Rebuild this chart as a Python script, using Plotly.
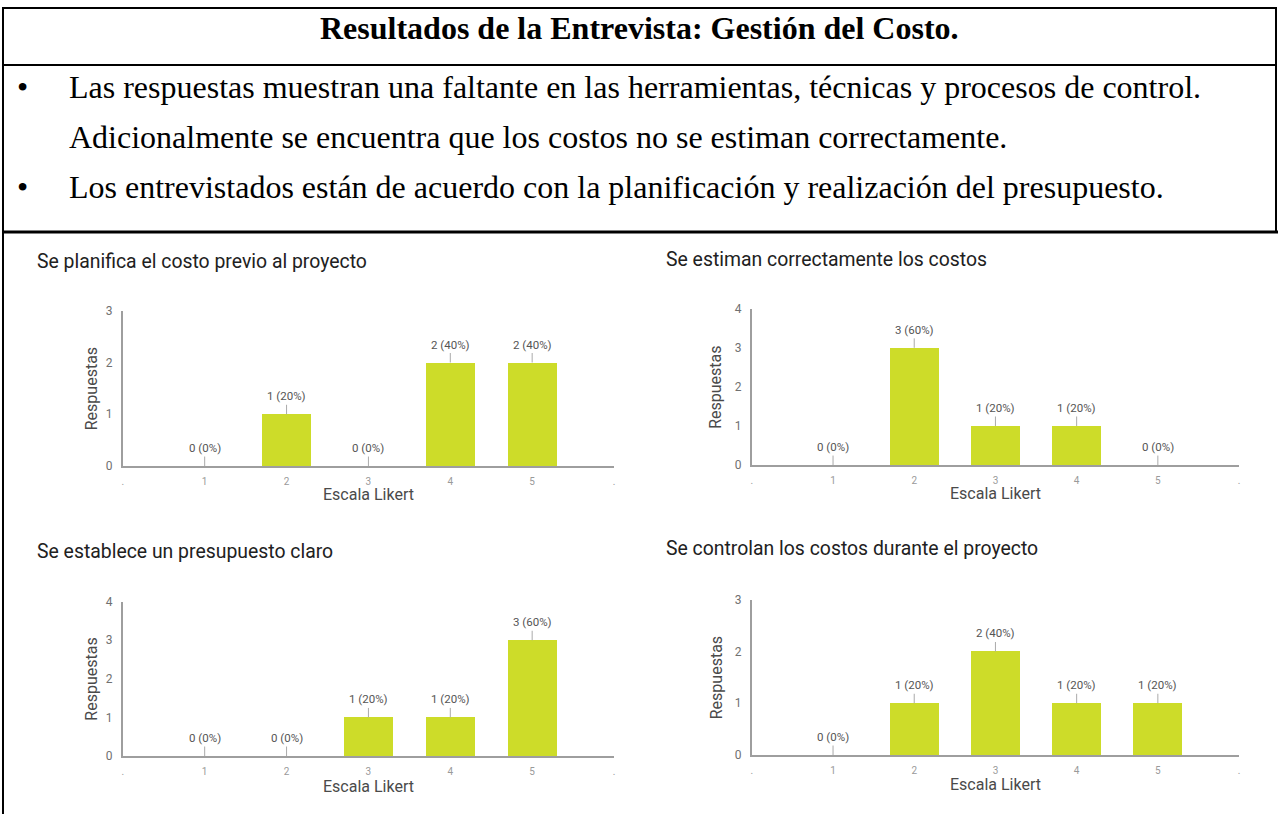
import plotly.graph_objects as go

# ---------------- data ----------------
categories = [1, 2, 3, 4, 5]
x_tick_vals = [0, 1, 2, 3, 4, 5, 6]
x_tick_text = [".", "1", "2", "3", "4", "5", "."]

title_main = "Resultados de la Entrevista: Gestión del Costo."
bullet_lines = [
    ("•", "Las respuestas muestran una faltante en las herramientas, técnicas y procesos de control."),
    ("", "Adicionalmente se encuentra que los costos no se estiman correctamente."),
    ("•", "Los entrevistados están de acuerdo con la planificación y realización del presupuesto."),
]

chart_titles = [
    "Se planifica el costo previo al proyecto",
    "Se estiman correctamente los costos",
    "Se establece un presupuesto claro",
    "Se controlan los costos durante el proyecto",
]
planifica = [0, 1, 0, 2, 2]
estiman = [0, 3, 1, 1, 0]
establece = [0, 0, 1, 1, 3]
controlan = [0, 1, 2, 1, 1]
series = [planifica, estiman, establece, controlan]
y_max = [3, 4, 4, 3]
y_title = "Respuestas"
x_title = "Escala Likert"

# ---------------- layout helpers ----------------
W, H = 1279, 821
def px(x):
    return x / W
def py(y):
    return 1 - y / H

BAR = "#CDDC29"
AXIS = "#9e9e9e"

# plot boxes in pixels: (x_left, x_right, y_top, y_bottom)
boxes = [
    (122, 614, 309, 467),
    (752, 1240, 307, 466),
    (122, 614, 605, 762),
    (752, 1240, 603, 761),
]
title_pos = [(34, 259), (664, 257), (34, 554), (664, 551)]
ytitle_x = [91, 716, 91, 716]
xtitle_off = [29, 29, 31, 30]

fig = go.Figure()
annotations = []

for i, (vals, box) in enumerate(zip(series, boxes)):
    n = i + 1
    xa = "x" if n == 1 else f"x{n}"
    ya = "y" if n == 1 else f"y{n}"
    fig.add_trace(go.Bar(
        x=categories, y=vals, width=0.6,
        marker=dict(color=BAR, line=dict(width=0)),
        xaxis=xa, yaxis=ya, hoverinfo="skip", showlegend=False,
    ))
    xl, xr, yt, yb = box
    fig.layout[f"xaxis{'' if n == 1 else n}"] = dict(
        domain=[px(xl), px(xr)], range=[0, 6], anchor=ya,
        tickvals=x_tick_vals, ticktext=x_tick_text,
        showline=True, linecolor=AXIS, linewidth=2,
        showgrid=False, zeroline=False,
        ticks="outside", ticklen=5, tickcolor="rgba(0,0,0,0)",
        tickfont=dict(family="Roboto", size=10, color="#9a9a9a"),
        fixedrange=True,
    )
    fig.layout[f"yaxis{'' if n == 1 else n}"] = dict(
        domain=[py(yb), py(yt)], range=[0, y_max[i]], anchor=xa,
        tickvals=list(range(y_max[i] + 1)),
        showline=True, linecolor=AXIS, linewidth=2,
        showgrid=False, zeroline=False,
        ticks="outside", ticklen=6, tickcolor="rgba(0,0,0,0)",
        tickfont=dict(family="Roboto", size=12, color="#707070"),
        fixedrange=True,
    )
    total = sum(vals)
    for c, v in zip(categories, vals):
        annotations.append(dict(
            x=c, y=v, xref=xa, yref=ya,
            text=f"{v} ({round(v * 100 / total)}%)",
            showarrow=True, arrowhead=0, arrowwidth=1, arrowcolor="#aaaaaa",
            ax=0, ay=-18,
            font=dict(family="Roboto", size=11.5, color="#555555"),
        ))
    # chart title
    tx, ty = title_pos[i]
    annotations.append(dict(
        x=px(tx), y=py(ty), xref="paper", yref="paper",
        xanchor="left", yanchor="middle", showarrow=False,
        text=chart_titles[i],
        font=dict(family="Roboto", size=19.4, color="#212121"),
    ))
    # axis titles
    annotations.append(dict(
        x=px(ytitle_x[i]), y=py((yt + yb) / 2), xref="paper", yref="paper",
        xanchor="center", yanchor="middle", showarrow=False, textangle=-90,
        text=y_title, font=dict(family="Roboto", size=16, color="#4a4a4a"),
    ))
    annotations.append(dict(
        x=3, y=py(yb + xtitle_off[i]), xref=xa, yref="paper",
        xanchor="center", yanchor="middle", showarrow=False,
        text=x_title, font=dict(family="Roboto", size=16, color="#4a4a4a"),
    ))

# header
annotations.append(dict(
    x=0.5, y=py(21), xref="paper", yref="paper",
    xanchor="center", yanchor="middle", showarrow=False,
    text=f"<b>{title_main}</b>",
    font=dict(family="Liberation Serif", size=32, color="#000000"),
))
line_y = [81, 132, 183]
for (b, t), ly in zip(bullet_lines, line_y):
    if b:
        annotations.append(dict(
            x=px(22), y=py(ly), xref="paper", yref="paper",
            xanchor="center", yanchor="middle", showarrow=False,
            text=b, font=dict(family="Liberation Serif", size=32, color="#000000"),
        ))
    annotations.append(dict(
        x=px(66), y=py(ly), xref="paper", yref="paper",
        xanchor="left", yanchor="middle", showarrow=False,
        text=t, font=dict(family="Liberation Serif", size=32, color="#000000"),
    ))

def seg(x0, y0, x1, y1, w):
    return dict(type="line", xref="paper", yref="paper",
                x0=px(x0), y0=py(y0), x1=px(x1), y1=py(y1),
                line=dict(color="#000000", width=w))

shapes = [
    seg(2, 0, 2, 821, 2),
    seg(1, 1, 1278, 1, 2),
    seg(1277, 0, 1277, 229, 2),
    seg(1, 59, 1278, 59, 2),
    seg(1, 229, 1279, 229, 3),
]

fig.update_layout(
    width=W, height=H, autosize=False,
    margin=dict(l=0, r=0, t=0, b=0),
    paper_bgcolor="white", plot_bgcolor="white",
    showlegend=False, bargap=0,
    annotations=annotations, shapes=shapes,
)

fig.write_html(
    "out.html",
    config={"displayModeBar": False, "staticPlot": True},
    post_script="document.body.style.margin='0px';document.body.style.overflow='hidden';",
)
